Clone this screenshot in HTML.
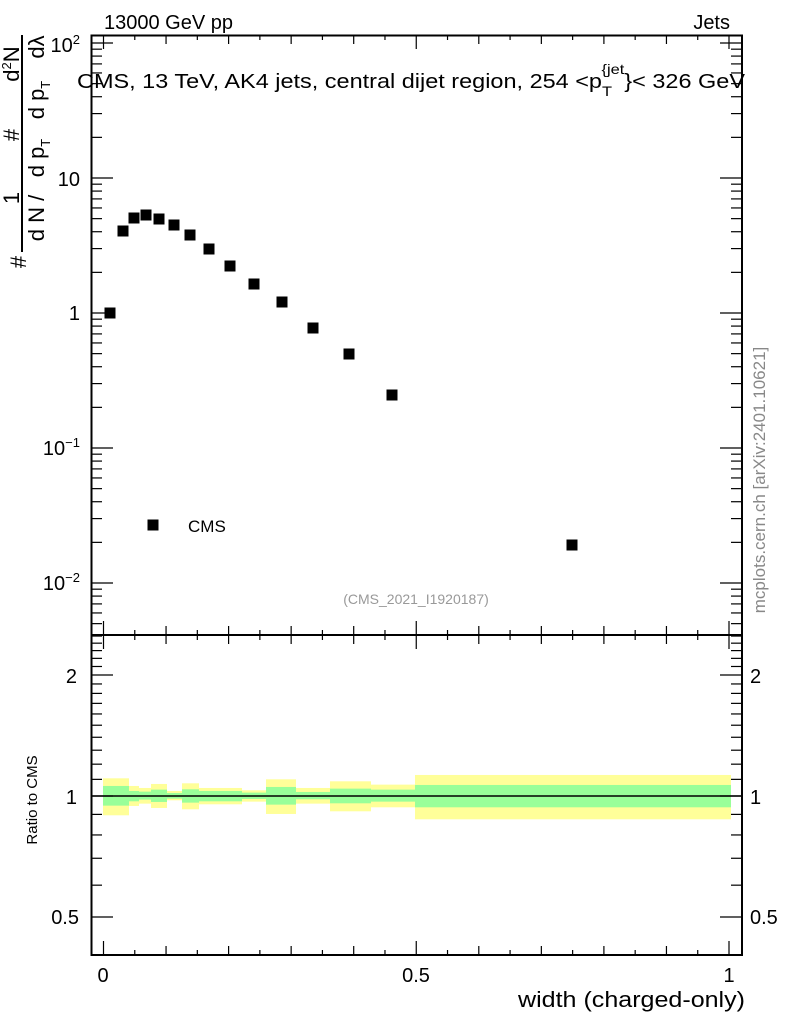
<!DOCTYPE html>
<html><head><meta charset="utf-8"><style>
html,body{margin:0;padding:0;background:#fff}
svg{display:block;font-family:"Liberation Sans",sans-serif}
</style></head><body>
<svg id="s" width="786" height="1024" viewBox="0 0 786 1024" xmlns="http://www.w3.org/2000/svg">
<rect width="786" height="1024" fill="#fff"/>
<g id="band"></g>
<line x1="91" y1="796" x2="742" y2="796" stroke="#000" stroke-width="1.5"/>
<g id="ticks" stroke="#000" stroke-width="1.2"></g>
<rect x="91.5" y="35.5" width="650.5" height="599.5" fill="none" stroke="#000" stroke-width="2"/>
<rect x="91.5" y="635" width="650.5" height="320" fill="none" stroke="#000" stroke-width="2"/>
<g id="pts"></g>
<text x="104" y="29" font-size="20">13000 GeV pp</text>
<text x="730" y="29" font-size="20" text-anchor="end">Jets</text>
<text x="77" y="88" font-size="20" textLength="668" lengthAdjust="spacingAndGlyphs">CMS, 13 TeV, AK4 jets, central dijet region, 254 &lt;p<tspan font-size="14" dy="8">T</tspan><tspan font-size="14" dy="-22" dx="-9">{jet</tspan><tspan dy="14">}&lt; 326 GeV</tspan></text>
<text x="80" y="52" font-size="20" text-anchor="end">10<tspan font-size="13" dy="-8">2</tspan></text>
<text x="80" y="186" font-size="20" text-anchor="end">10</text>
<text x="80" y="320" font-size="20" text-anchor="end">1</text>
<text x="80" y="455" font-size="20" text-anchor="end">10<tspan font-size="13" dy="-8">−1</tspan></text>
<text x="80" y="590" font-size="20" text-anchor="end">10<tspan font-size="13" dy="-8">−2</tspan></text>
<text x="77" y="683" font-size="20" text-anchor="end">2</text>
<text x="77" y="804" font-size="20" text-anchor="end">1</text>
<text x="79" y="924" font-size="20" text-anchor="end">0.5</text>
<text x="750" y="683" font-size="20">2</text>
<text x="750" y="804" font-size="20">1</text>
<text x="750" y="924" font-size="20">0.5</text>
<text x="103" y="982" font-size="20" text-anchor="middle">0</text>
<text x="416" y="982" font-size="20" text-anchor="middle">0.5</text>
<text x="729" y="982" font-size="20" text-anchor="middle">1</text>
<text x="745" y="1007" font-size="22" text-anchor="end" textLength="227" lengthAdjust="spacingAndGlyphs">width (charged-only)</text>
<text x="416" y="604" font-size="14" fill="#999" text-anchor="middle">(CMS_2021_I1920187)</text>
<text transform="translate(765,480) rotate(-90)" font-size="17" fill="#888" text-anchor="middle">mcplots.cern.ch [arXiv:2401.10621]</text>
<text transform="translate(37,800) rotate(-90)" font-size="15" text-anchor="middle">Ratio to CMS</text>
<rect x="147.5" y="519.5" width="11" height="11" fill="#000"/>
<text x="188" y="532" font-size="17">CMS</text>
<line x1="22" y1="35" x2="22" y2="252" stroke="#000" stroke-width="2"/>
<g font-size="22">
<text transform="translate(19,64) rotate(-90)" text-anchor="middle">d<tspan font-size="13" dy="-8">2</tspan><tspan dy="8">N</tspan></text>
<text transform="translate(19,135) rotate(-90)" text-anchor="middle">#</text>
<text transform="translate(19,198) rotate(-90)" text-anchor="middle">1</text>
<text transform="translate(26,262) rotate(-90)" text-anchor="middle">#</text>
<text transform="translate(44,47) rotate(-90)" text-anchor="middle">dλ</text>
<text transform="translate(44,100) rotate(-90)" text-anchor="middle">d p<tspan font-size="13" dy="6">T</tspan></text>
<text transform="translate(44,158) rotate(-90)" text-anchor="middle">d p<tspan font-size="13" dy="6">T</tspan></text>
<text transform="translate(44,218) rotate(-90)" text-anchor="middle">d N /</text>
</g>
</svg>
<script>
var NS="http://www.w3.org/2000/svg";
function el(p,t,a){var e=document.createElementNS(NS,t);for(var k in a)e.setAttribute(k,a[k]);document.getElementById(p).appendChild(e);}
function X(v){return 103.5+625.5*v;}
function YM(v){return 313-135*Math.log10(v);}
function YR(v){return 796-121*Math.log2(v);}
function tk(x1,y1,x2,y2){el("ticks","line",{x1:x1,y1:y1,x2:x2,y2:y2});}
for(var i=0;i<=20;i++){var v=i*0.05,x=X(v),L=(i%10==0)?14:(i%2==0?9:5);
 tk(x,35,x,35+L);tk(x,635,x,635-L);tk(x,635,x,635+L);tk(x,955,x,955-L);}
for(var d=-3;d<=2;d++){for(var m=1;m<10;m++){var v=m*Math.pow(10,d),y=YM(v);if(y<35||y>635)continue;var L=m==1?22:11;tk(91,y,91+L,y);tk(742,y,742-L,y);}}
for(var r=0.4;r<=2.55;r+=0.1){var rr=Math.round(r*10)/10,y=YR(rr);if(y<636||y>954)continue;var L=(rr==0.5||rr==1||rr==2)?22:11;tk(91,y,91+L,y);tk(742,y,742-L,y);}
var e=[103,129,139,151,167,182,199,242,266,296,330,371,415,731];
var yb=[[474,585,497,556],[497,557,512,543],[503,550,514,538],[491,563,508,545],[512,540,518,535],[489,567,507,547],[503,552,512,543],[510,544,517,536],[477,581,500,553],[503,550,515,537],[483,573,505,549],[493,561,508,544],[464,597,494,561]];
function z(v){return 620.3+v/3;}
for(var i=0;i<13;i++){var b=yb[i];
 el("band","rect",{x:e[i],y:z(b[0]),width:e[i+1]-e[i],height:z(b[1])-z(b[0]),fill:"#ffff99"});
 el("band","rect",{x:e[i],y:z(b[2]),width:e[i+1]-e[i],height:z(b[3])-z(b[2]),fill:"#99ff99"});}
var P=[[110,313],[123,231],[134,218],[146,215],[159,219],[174,225],[190,235],[209,249],[230,266],[254,284],[282,302],[313,328],[349,354],[392,395],[572,545]];
P.forEach(function(p){el("pts","rect",{x:p[0]-5.5,y:p[1]-5.5,width:11,height:11,fill:"#000"});});
</script>
</body></html>
